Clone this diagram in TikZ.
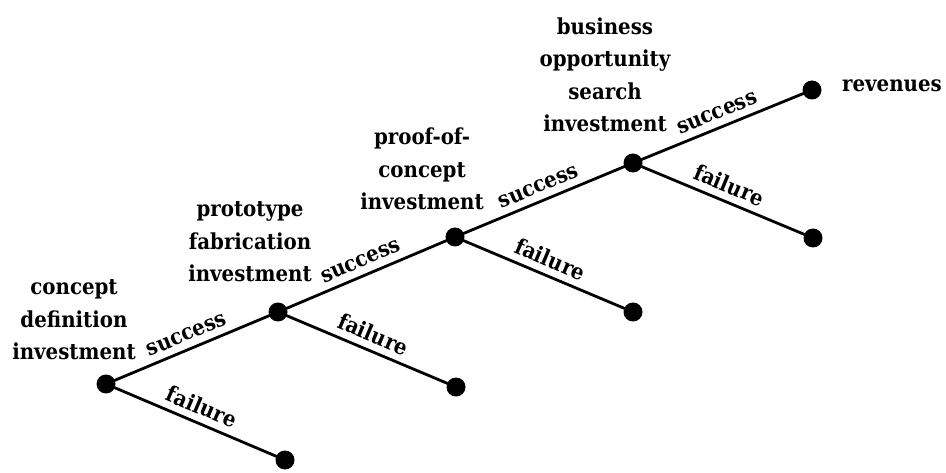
\documentclass[tikz,border=0pt]{standalone}
\usepackage{fontspec}
\setmainfont[FakeStretch=0.9]{DejaVu Serif}
\begin{document}
\begin{tikzpicture}[x=1pt,y=-1pt,
  dot/.style={circle,fill=black,minimum size=19pt,inner sep=0pt},
  branch/.style={line width=2.8pt},
  ttl/.style={align=center,font=\fontsize{22}{32.5}\selectfont\bfseries,inner sep=0pt},
  elab/.style={midway,sloped,anchor=base,yshift=8.5pt,font=\fontsize{22}{24}\selectfont\bfseries,inner sep=0pt}]
\useasboundingbox (0,0) rectangle (946,473);
\node[dot] (A) at (106,384) {};
\node[dot] (Af) at (285,460) {};
\node[dot] (B) at (278,312) {};
\node[dot] (Bf) at (456,387) {};
\node[dot] (C) at (455,237) {};
\node[dot] (Cf) at (633,312) {};
\node[dot] (D) at (633,163) {};
\node[dot] (Df) at (813,238) {};
\node[dot] (E) at (812,90) {};
\draw[branch] (A.center) -- node[elab]{success} (B.center);
\draw[branch] (A.center) -- node[elab]{failure} (Af.center);
\draw[branch] (B.center) -- node[elab]{success} (C.center);
\draw[branch] (B.center) -- node[elab]{failure} (Bf.center);
\draw[branch] (C.center) -- node[elab]{success} (D.center);
\draw[branch] (C.center) -- node[elab]{failure} (Cf.center);
\draw[branch] (D.center) -- node[elab]{success} (E.center);
\draw[branch] (D.center) -- node[elab]{failure} (Df.center);
\node[ttl] (tA) at (74,320) {concept\\definition\\investment};
\node[ttl] (tB) at (250,242) {prototype\\fabrication\\investment};
\node[ttl] (tC) at (422,169) {proof-of-\\concept\\investment};
\node[ttl] (tD) at (605,75) {business\\opportunity\\search\\investment};
\node[ttl,anchor=west] (tE) at (842,86) {revenues};
\end{tikzpicture}
\end{document}
